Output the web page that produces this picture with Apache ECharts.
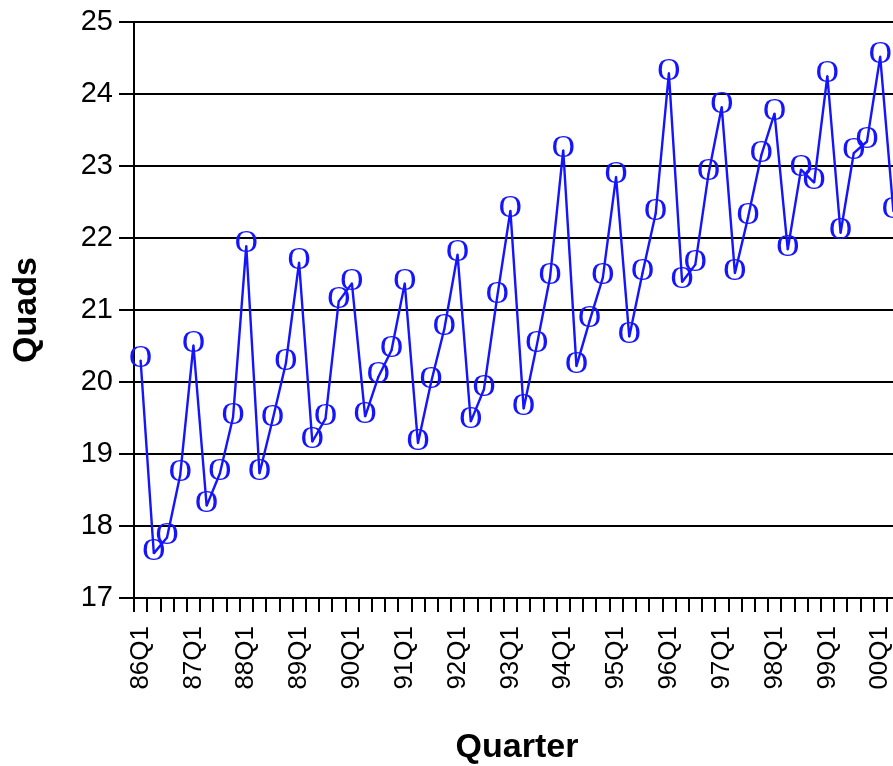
<!DOCTYPE html>
<html>
<head>
<meta charset="utf-8">
<script src="https://cdn.jsdelivr.net/npm/echarts@6/dist/echarts.min.js"></script>
<style>
  html, body { margin: 0; padding: 0; background: #fff; }
  #chart { width: 893px; height: 766px; }
</style>
</head>
<body>
<div id="chart"></div>
<script>
const chart = echarts.init(document.getElementById('chart'));

// quarters 86Q1 .. 00Q2
const years = ['86', '87', '88', '89', '90', '91', '92', '93', '94', '95', '96', '97', '98', '99', '00'];
const quarters = [];
years.forEach(y => {
	for (let q = 1; q <= 4; q++) quarters.push(y + 'Q' + q);
});
quarters.length = 58;

// energy use, quads
const quads = [
	20.30, 17.62, 17.84, 18.71,
	20.51, 18.28, 18.73, 19.51,
	21.89, 18.73, 19.48, 20.26,
	21.66, 19.17, 19.49, 21.12,
	21.37, 19.52, 20.07, 20.44,
	21.37, 19.15, 20.00, 20.74,
	21.77, 19.45, 19.90, 21.18,
	22.38, 19.63, 20.51, 21.45,
	23.22, 20.22, 20.85, 21.45,
	22.85, 20.63, 21.51, 22.34,
	24.29, 21.39, 21.63, 22.89,
	23.82, 21.51, 22.29, 23.15,
	23.73, 21.84, 22.95, 22.77,
	24.25, 22.07, 23.18, 23.34,
	24.52, 22.37
];

const blue = '#1414ff';
const black = '#000';

const option = {
	animation: false,
	grid: {
		left: 134,
		top: 22,
		height: 576,
		width: 766,
		containLabel: false,
		outerBoundsMode: 'none'
	},
	xAxis: {
		type: 'category',
		data: quarters,
		boundaryGap: true,
		name: 'Quarter',
		nameLocation: 'middle',
		nameGap: 133,
		nameTextStyle: { fontFamily: 'Liberation Sans', fontWeight: 'bold', fontSize: 34, color: black },
		axisLine: { lineStyle: { color: black, width: 2 } },
		axisTick: { show: true, interval: 0, length: 14, lineStyle: { color: black, width: 2 } },
		axisLabel: {
			interval: 3,
			rotate: 90,
			margin: 28,
			fontFamily: 'Liberation Sans',
			fontSize: 26,
			color: black
		},
		splitLine: { show: false }
	},
	yAxis: {
		type: 'value',
		min: 17,
		max: 25,
		interval: 1,
		name: 'Quads',
		nameLocation: 'middle',
		nameRotate: 90,
		nameGap: 90,
		nameTextStyle: { fontFamily: 'Liberation Sans', fontWeight: 'bold', fontSize: 34, color: black },
		axisLine: { show: true, lineStyle: { color: black, width: 2 } },
		axisTick: { show: true, length: 15, lineStyle: { color: black, width: 2 } },
		axisLabel: {
			margin: 21,
			fontFamily: 'Liberation Sans',
			fontSize: 29,
			color: black
		},
		splitLine: { show: true, lineStyle: { color: black, width: 2 } }
	},
	series: [
		{
			type: 'line',
			data: quads,
			symbol: 'circle',
			symbolSize: 2,
			itemStyle: { color: blue },
			lineStyle: { color: blue, width: 2.4 },
			label: {
				show: true,
				formatter: 'O',
				position: 'inside',
				offset: [0, -2],
				fontFamily: 'Liberation Serif',
				fontSize: 32,
				color: blue
			},
			emphasis: { disabled: true }
		}
	]
};

chart.setOption(option);
</script>
</body>
</html>
